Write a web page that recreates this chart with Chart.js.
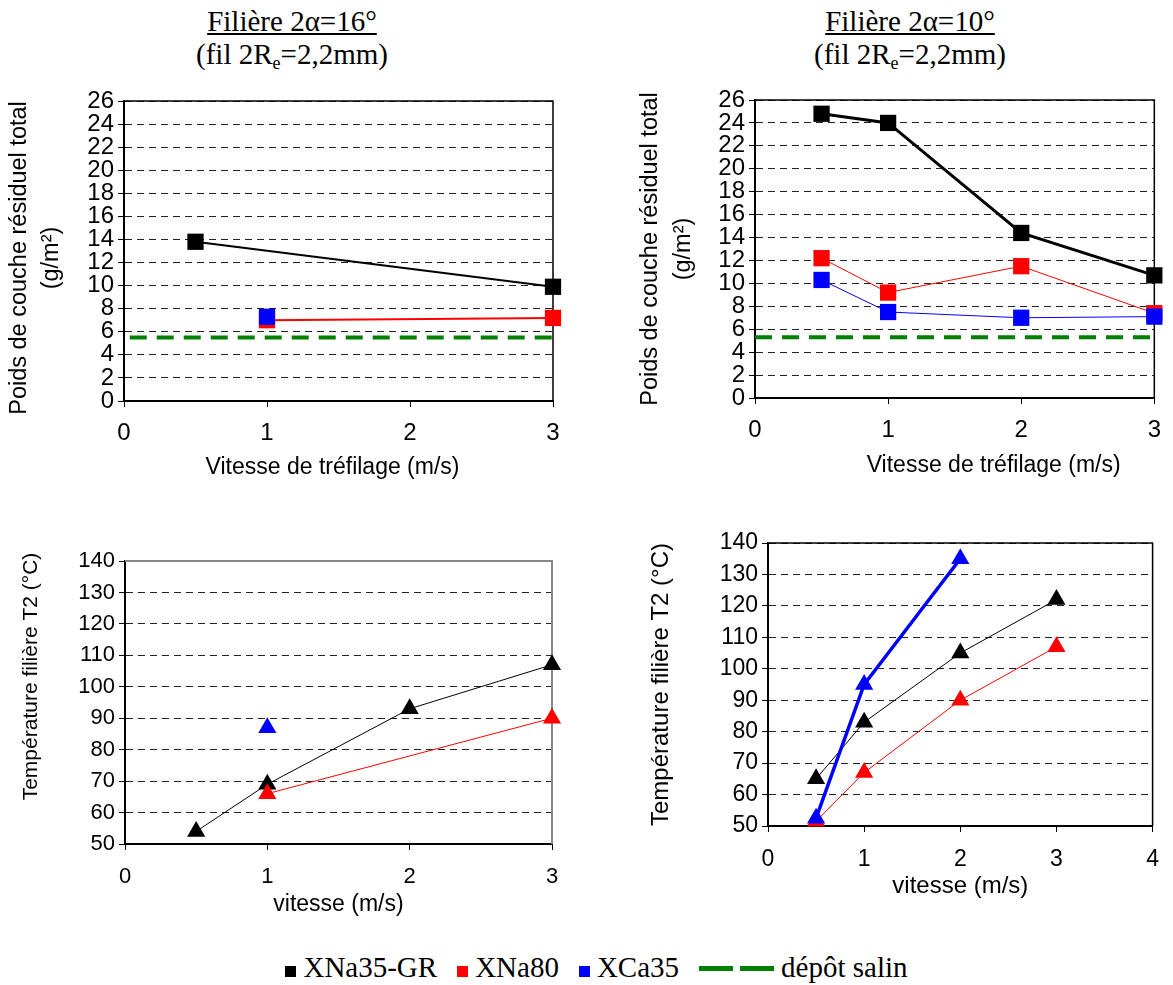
<!DOCTYPE html>
<html>
<head>
<meta charset="utf-8">
<script src="https://cdn.jsdelivr.net/npm/chart.js@4.4.1/dist/chart.umd.min.js"></script>
<style>
  body { margin: 0; background: #fff; width: 1173px; height: 985px; position: relative; overflow: hidden; }
  canvas { position: absolute; }
  .ttl { position: absolute; width: 400px; text-align: center; color: #000;
         font-family: "Liberation Serif", "Times New Roman", serif; font-size: 29px; line-height: 33px; }
  .ttl sub { font-size: 18px; line-height: 0; vertical-align: -5px; }
  #legend { position: absolute; left: 10px; top: 949px; width: 1173px; text-align: center; color: #000;
            font-family: "Liberation Serif", "Times New Roman", serif; font-size: 29px; line-height: 36px; white-space: nowrap; }
  #legend .sw { display: inline-block; width: 11px; height: 11px; margin: 0 7px 0 20px; }
  #legend .sw.first { margin-left: 0; }
  #legend .dash { display: inline-block; width: 34px; height: 5px; background: #008000; vertical-align: 6px; margin-right: 7px; }
  #legend .dash.first { margin-left: 20px; }
</style>
</head>
<body>
<div class="ttl" style="left:92px; top:5px;"><u>Filière 2α=16°</u><br>(fil 2R<sub>e</sub>=2,2mm)</div>
<div class="ttl" style="left:710px; top:5px;"><u>Filière 2α=10°</u><br>(fil 2R<sub>e</sub>=2,2mm)</div>

<canvas id="chart-tl" width="590" height="430" style="left:0px; top:70px;"></canvas>
<canvas id="chart-tr" width="573" height="430" style="left:600px; top:70px;"></canvas>
<canvas id="chart-bl" width="590" height="420" style="left:0px; top:510px;"></canvas>
<canvas id="chart-br" width="573" height="420" style="left:600px; top:500px;"></canvas>

<div id="legend"><span class="sw first" style="background:#000"></span>XNa35-GR<span class="sw" style="background:#f00"></span>XNa80<span class="sw" style="background:#00f"></span>XCa35<span class="dash first"></span><span class="dash"></span>dépôt salin</div>

<script>
// vitesses (m/s)
const speedsAll = [0.5, 1, 2, 3];
const speedsTL_gr = [0.5, 3];
const speedsTL_na80 = [1, 3];
const speedsTL_ca = [1];
const speedsBL_na80 = [1, 3];
const speedsBL_ca = [1];
const speedsBR_ca = [0.5, 1, 2];
const salinSpanTL = [0.04, 3];
const salinSpanTR = [0, 3];

// poids de couche (g/m²) - filière 16°
const poidsTL_gr = [13.8, 9.9];
const poidsTL_na80 = [7.0, 7.2];
const poidsTL_ca = [7.3];
const salinTL = [5.5, 5.5];

// poids de couche (g/m²) - filière 10°
const poidsTR_gr = [24.8, 24.0, 14.4, 10.7];
const poidsTR_na80 = [12.2, 9.2, 11.5, 7.4];
const poidsTR_ca = [10.3, 7.5, 7.0, 7.1];
const salinTR = [5.3, 5.3];

// température filière T2 (°C)
const tempBL_gr = [54, 69, 93, 107];
const tempBL_na80 = [66, 90];
const tempBL_ca = [87];
const tempBR_gr = [65, 83, 105, 122];
const tempBR_na80 = [51.5, 67, 90, 107];
const tempBR_ca = [52.5, 95, 135];

const BLACK = "#000000";
const RED = "#ff0000";
const BLUE = "#0000ff";
const GREEN = "#008000";
const FONT = '"Liberation Sans", Arial, sans-serif';

function series(label, xs, ys, color, width, order, style, radius) {
  return {
    label,
    data: xs.map((x, i) => ({ x, y: ys[i] })),
    borderColor: color,
    backgroundColor: color,
    borderWidth: width,
    pointStyle: style,
    pointRadius: radius,
    pointBackgroundColor: color,
    pointBorderWidth: 0,
    tension: 0,
    fill: false,
    clip: false,
    order,
  };
}

function salin(xs, ys) {
  const ds = series("dépôt salin", xs, ys, GREEN, 4, 3, false, 0);
  ds.borderDash = [17, 10];
  return ds;
}

// top and right edges of the plot box
function framePlugin(color, width) {
  return {
    id: "frame",
    beforeDatasetsDraw(chart) {
      const { ctx, chartArea: a } = chart;
      ctx.save();
      ctx.strokeStyle = color;
      ctx.lineWidth = width;
      ctx.beginPath();
      ctx.moveTo(a.left, a.top);
      ctx.lineTo(a.right, a.top);
      ctx.lineTo(a.right, a.bottom);
      ctx.stroke();
      ctx.restore();
    },
  };
}

// axis titles, placed against the plot area
function titlesPlugin(t) {
  return {
    id: "axisTitles",
    afterDraw(chart) {
      const { ctx, chartArea: a } = chart;
      ctx.save();
      ctx.fillStyle = "#000";
      ctx.textAlign = "center";
      ctx.textBaseline = "middle";
      ctx.font = `${t.xSize}px ${FONT}`;
      ctx.fillText(t.xText, (a.left + a.right) / 2 + t.xShift, a.bottom + t.xDrop);
      ctx.font = `${t.ySize}px ${FONT}`;
      t.yLines.forEach((line, i) => {
        ctx.save();
        ctx.translate(a.left - t.yGaps[i], (a.top + a.bottom) / 2 + t.yShift);
        ctx.rotate(-Math.PI / 2);
        ctx.fillText(line, 0, 0);
        ctx.restore();
      });
      ctx.restore();
    },
  };
}

function makeChart(id, area, cfg) {
  const cv = document.getElementById(id);
  const box = { x: parseInt(cv.style.left), y: parseInt(cv.style.top), w: cv.width, h: cv.height };
  const xAxisH = 50;
  return new Chart(cv, {
    type: "line",
    data: { datasets: cfg.datasets },
    options: {
      responsive: false,
      animation: false,
      layout: {
        padding: {
          left: 0,
          top: area.t - box.y,
          right: box.x + box.w - area.r,
          bottom: box.y + box.h - area.b - xAxisH,
        },
      },
      plugins: { legend: { display: false }, tooltip: { enabled: false } },
      scales: {
        x: {
          type: "linear",
          min: 0,
          max: cfg.xMax,
          afterFit: (s) => { s.height = xAxisH; },
          ticks: { stepSize: 1, autoSkip: false, color: "#000", font: { family: FONT, size: cfg.tickSize }, padding: cfg.xPad, maxRotation: 0 },
          grid: { drawOnChartArea: false, color: "#000", tickLength: 6, lineWidth: 1 },
          border: { color: "#000", width: 2 },
        },
        y: {
          min: cfg.yMin,
          max: cfg.yMax,
          afterFit: (s) => { s.width = area.l - box.x; },
          ticks: { stepSize: cfg.yStep, autoSkip: false, color: "#000", font: { family: FONT, size: cfg.tickSize }, padding: 4 },
          grid: { color: "#222", lineWidth: 1, tickLength: 6, tickColor: "#000" },
          border: { color: "#000", width: 2, dash: [7, 5] },
        },
      },
    },
    plugins: [framePlugin(cfg.frameColor, cfg.frameWidth), titlesPlugin(cfg.titles)],
  });
}

const poidsLines = ["Poids de couche résiduel total", "(g/m²)"];
const tempLines = ["Température filière T2 (°C)"];

makeChart("chart-tl", { l: 124, t: 101, r: 553, b: 401 }, {
  xMax: 3, yMin: 0, yMax: 26, yStep: 2, tickSize: 24, xPad: 12,
  frameColor: "#000", frameWidth: 1.5,
  titles: { xText: "Vitesse de tréfilage (m/s)", xSize: 23, xShift: -6, xDrop: 67,
            yLines: poidsLines, ySize: 23.5, yGaps: [104, 72], yShift: 7 },
  datasets: [
    series("XNa35-GR", speedsTL_gr, poidsTL_gr, BLACK, 2, 2, "rect", 11.5),
    series("XNa80", speedsTL_na80, poidsTL_na80, RED, 2, 1, "rect", 11.5),
    series("XCa35", speedsTL_ca, poidsTL_ca, BLUE, 1, 0, "rect", 11.5),
    salin(salinSpanTL, salinTL),
  ],
});

makeChart("chart-tr", { l: 755, t: 100, r: 1157, b: 398 }, {
  xMax: 3, yMin: 0, yMax: 26, yStep: 2, tickSize: 24, xPad: 12,
  frameColor: "#000", frameWidth: 1.5,
  titles: { xText: "Vitesse de tréfilage (m/s)", xSize: 23, xShift: 39, xDrop: 68,
            yLines: poidsLines, ySize: 23.5, yGaps: [104, 71], yShift: 0 },
  datasets: [
    series("XNa35-GR", speedsAll, poidsTR_gr, BLACK, 3, 2, "rect", 11.5),
    series("XNa80", speedsAll, poidsTR_na80, RED, 1, 1, "rect", 11.5),
    series("XCa35", speedsAll, poidsTR_ca, BLUE, 1, 0, "rect", 11.5),
    salin(salinSpanTR, salinTR),
  ],
});

makeChart("chart-bl", { l: 125, t: 561, r: 552, b: 844 }, {
  xMax: 3, yMin: 50, yMax: 140, yStep: 10, tickSize: 22, xPad: 14,
  frameColor: "#888", frameWidth: 2,
  titles: { xText: "vitesse (m/s)", xSize: 23, xShift: 0, xDrop: 61,
            yLines: tempLines, ySize: 21, yGaps: [94], yShift: -26 },
  datasets: [
    series("XNa35-GR", speedsAll, tempBL_gr, BLACK, 1, 2, "triangle", 10.5),
    series("XNa80", speedsBL_na80, tempBL_na80, RED, 1, 1, "triangle", 10.5),
    series("XCa35", speedsBL_ca, tempBL_ca, BLUE, 1, 0, "triangle", 10.5),
  ],
});

makeChart("chart-br", { l: 768, t: 543, r: 1162, b: 826 }, {
  xMax: 4, yMin: 50, yMax: 140, yStep: 10, tickSize: 23, xPad: 14,
  frameColor: "#000", frameWidth: 1.5,
  titles: { xText: "vitesse (m/s)", xSize: 24, xShift: 0, xDrop: 60,
            yLines: tempLines, ySize: 24, yGaps: [107], yShift: 0 },
  datasets: [
    series("XNa35-GR", speedsAll, tempBR_gr, BLACK, 1, 2, "triangle", 10.5),
    series("XNa80", speedsAll, tempBR_na80, RED, 1, 1, "triangle", 10.5),
    series("XCa35", speedsBR_ca, tempBR_ca, BLUE, 3.5, 0, "triangle", 10.5),
  ],
});
</script>
</body>
</html>
